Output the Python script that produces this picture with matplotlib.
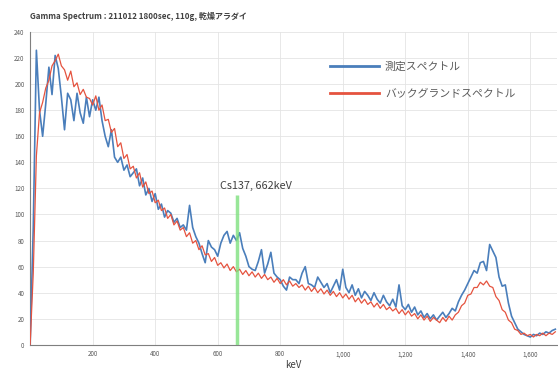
import numpy as np
import matplotlib
matplotlib.use('Agg')
import matplotlib.pyplot as plt

plt.rcParams['font.family'] = ['Noto Sans CJK JP', 'DejaVu Sans']

# エネルギー (keV), 10 keV刻み
kev = np.arange(0, 1690, 10)

# 測定スペクトル
medida = [
    0, 90, 226, 180, 160, 185, 213, 192, 222, 212,
    190, 165, 193, 188, 172, 193, 178, 170, 190, 175,
    188, 180, 190, 172, 160, 152, 165, 144, 140, 144,
    134, 138, 129, 132, 135, 122, 128, 115, 120, 110,
    116, 104, 108, 98, 103, 101, 94, 97, 90, 92,
    88, 107, 90, 83, 78, 70, 63, 80, 75, 73,
    68, 78, 84, 87, 78, 84, 80, 86, 74, 68,
    60, 58, 57, 64, 73, 55, 62, 71, 55, 52,
    50, 45, 42, 52, 50, 50, 47, 55, 60, 47,
    46, 44, 52, 48, 44, 47, 40, 45, 50, 42,
    58, 44, 40, 46, 38, 43, 36, 41, 38, 34,
    40, 35, 32, 38, 33, 30, 35, 29, 46, 30,
    27, 31, 25, 29, 23, 26, 21, 24, 20, 23,
    19, 22, 25, 21, 24, 28, 26, 33, 38, 42,
    47, 52, 57, 55, 63, 64, 57, 77, 72, 67,
    52, 45, 46, 32, 22, 17, 12, 10, 8, 7,
    6, 8, 7, 9, 8, 10, 9, 11, 12,
]

# バックグランドスペクトル
fondo = [
    0, 55, 145, 178, 186, 197, 203, 214, 218, 223,
    214, 211, 203, 210, 198, 201, 192, 196, 190, 189,
    184, 191, 180, 184, 172, 173, 163, 166, 152, 155,
    143, 146, 135, 137, 128, 132, 121, 125, 116, 118,
    109, 111, 103, 105, 97, 100, 92, 95, 88, 90,
    83, 86, 78, 80, 73, 76, 69, 70, 64, 67,
    61, 63, 59, 62, 57, 60, 56, 58, 54, 57,
    53, 56, 52, 55, 51, 54, 50, 52, 48, 51,
    47, 50, 46, 49, 45, 47, 44, 46, 42, 45,
    41, 44, 40, 43, 39, 42, 38, 41, 37, 40,
    36, 39, 35, 38, 33, 36, 32, 35, 31, 33,
    29, 32, 28, 31, 27, 29, 26, 28, 24, 27,
    23, 26, 22, 24, 20, 23, 19, 22, 18, 21,
    19, 17, 21, 18, 22, 19, 23, 25, 30, 32,
    38, 39, 44, 44, 48, 46, 49, 45, 44, 37,
    34, 27, 25, 19, 17, 12, 11, 8, 9, 7,
    8, 6, 8, 7, 9, 7, 9, 8, 10,
]

xticks = [200, 400, 600, 800, 1000, 1200, 1400, 1600]
xticklabels = ['200', '400', '600', '800', '1,000', '1,200', '1,400', '1,600']
yticks = list(range(0, 241, 20))

cs_kev = 662
cs_top = 115

fig = plt.figure(figsize=(5.58, 3.72), dpi=100)
ax = fig.add_axes([0.054, 0.073, 0.944, 0.841])

ax.plot(kev, medida, color='#4a7ebb', lw=1.2, label='測定スペクトル', zorder=3)
ax.plot(kev, fondo, color='#e5533f', lw=0.9, label='バックグランドスペクトル', zorder=4)
ax.vlines(cs_kev, 0, cs_top, color='#7fe07f', lw=2.5, alpha=0.8, zorder=5)
ax.text(cs_kev + 60, cs_top + 3, 'Cs137, 662keV', fontsize=7.8, color='#404040',
        ha='center', va='bottom')

ax.set_xlim(0, 1685)
ax.set_ylim(0, 240)
ax.set_xticks(xticks)
ax.set_xticklabels(xticklabels)
ax.set_yticks(yticks)
ax.tick_params(labelsize=4.5, colors='#595959', length=0, pad=4)
ax.grid(True, color='#e4e4e4', lw=0.6)
ax.set_axisbelow(True)
for s in ['top', 'right']:
    ax.spines[s].set_visible(False)
for s in ['left', 'bottom']:
    ax.spines[s].set_color('#7f7f7f')
    ax.spines[s].set_linewidth(0.8)

ax.set_xlabel('keV', fontsize=7, color='#404040', labelpad=1)

leg = ax.legend(loc='upper left', bbox_to_anchor=(0.55, 0.935), frameon=False,
                fontsize=7.8, handlelength=4.6, labelspacing=1.5, handletextpad=0.5)
for t in leg.get_texts():
    t.set_color('#595959')
for l in leg.get_lines():
    l.set_linewidth(2)

fig.text(0.054, 0.955, 'Gamma Spectrum : 211012 1800sec, 110g, 乾燥アラダイ',
         fontsize=5.8, color='#404040', fontweight='bold', ha='left', va='center')

fig.savefig('out.png', dpi=100)
